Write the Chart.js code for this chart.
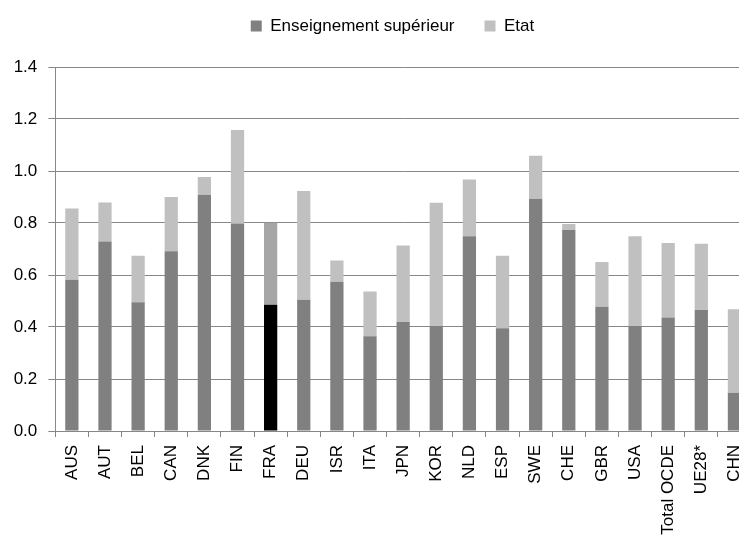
<!DOCTYPE html>
<html>
<head>
<meta charset="utf-8">
<script src="https://cdn.jsdelivr.net/npm/chart.js@4/dist/chart.umd.min.js"></script>
<style>
  html, body { margin: 0; padding: 0; background: #fff; overflow: hidden; }
  #wrap { width: 751px; height: 537px; }
</style>
</head>
<body>
<div id="wrap"><canvas id="c" width="751" height="537"></canvas></div>
<script>
const categories = ["AUS","AUT","BEL","CAN","DNK","FIN","FRA","DEU","ISR","ITA","JPN","KOR","NLD","ESP","SWE","CHE","GBR","USA","Total OCDE","UE28*","CHN"];
const enseignementSuperieur = [0.582,0.729,0.495,0.691,0.909,0.798,0.486,0.505,0.574,0.364,0.419,0.404,0.749,0.395,0.893,0.773,0.478,0.404,0.437,0.465,0.147];
const etat = [0.274,0.150,0.179,0.209,0.068,0.360,0.315,0.418,0.082,0.173,0.294,0.474,0.218,0.279,0.166,0.023,0.172,0.345,0.286,0.255,0.321];
const yTicks = [0.0,0.2,0.4,0.6,0.8,1.0,1.2,1.4];
const seriesNames = ["Enseignement supérieur","Etat"];
const highlight = "FRA";

const hi = categories.indexOf(highlight);
const FONT = '"Liberation Sans", Arial, sans-serif';
const GRID = '#878787';

const legendTweak = {
  id: 'legendTweak',
  afterInit(chart) {
    const lg = chart.legend;
    const fit0 = lg.fit;
    lg.fit = function () { fit0.call(this); this.height = 67; };
    const draw0 = lg.draw;
    lg.draw = function () {
      const c = this.ctx; c.save(); c.translate(17, -12.5); draw0.apply(this, arguments); c.restore();
    };
  }
};

new Chart(document.getElementById('c'), {
  type: 'bar',
  data: {
    labels: categories,
    datasets: [
      {
        label: seriesNames[0],
        data: enseignementSuperieur,
        backgroundColor: (ctx) => ctx.dataIndex === hi ? '#000000' : '#808080',
        borderWidth: 0
      },
      {
        label: seriesNames[1],
        data: etat,
        backgroundColor: (ctx) => ctx.dataIndex === hi ? '#A6A6A6' : '#C0C0C0',
        borderWidth: 0
      }
    ]
  },
  options: {
    responsive: false,
    animation: false,
    devicePixelRatio: 1,
    layout: { padding: { top: 0, left: 0, right: 0, bottom: 0 } },
    datasets: { bar: { categoryPercentage: 1.0, barPercentage: 0.4 } },
    plugins: {
      tooltip: { enabled: false },
      legend: {
        position: 'top',
        align: 'center',
        labels: {
          font: { family: FONT, size: 17 },
          color: '#000',
          boxWidth: 11,
          boxHeight: 11,
          padding: 30
        }
      }
    },
    scales: {
      x: {
        stacked: true,
        afterFit: (s) => { s.height = 106; s.paddingLeft = 0; s.paddingRight = 0; },
        grid: { display: true, drawOnChartArea: false, drawTicks: true, tickLength: 6, color: GRID, offset: true },
        border: { display: true, color: GRID },
        ticks: {
          font: { family: FONT, size: 17 },
          color: '#000',
          minRotation: 90,
          maxRotation: 90,
          autoSkip: false,
          padding: 8
        }
      },
      y: {
        stacked: true,
        min: yTicks[0],
        max: yTicks[yTicks.length - 1],
        afterFit: (s) => { s.width = 55.3; },
        afterBuildTicks: (s) => { s.ticks = yTicks.map(v => ({ value: v })); },
        grid: { color: GRID, tickLength: 7, drawTicks: true },
        border: { display: true, color: GRID },
        ticks: {
          font: { family: FONT, size: 17 },
          color: '#000',
          padding: 11,
          callback: (v) => Number(v).toFixed(1)
        }
      }
    }
  },
  plugins: [legendTweak]
});
</script>
</body>
</html>
